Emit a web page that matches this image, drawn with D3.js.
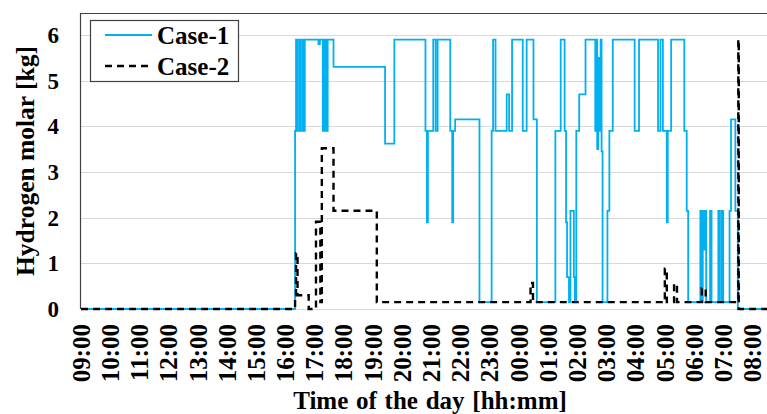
<!DOCTYPE html>
<html><head><meta charset="utf-8">
<script src="https://cdn.jsdelivr.net/npm/d3@7"></script>
<style>
html,body{margin:0;padding:0;background:#fff;}
svg{display:block;font-family:"Liberation Serif",serif;font-weight:bold;}
</style></head>
<body><svg id="chart" width="767" height="414"></svg>
<script>
// data (clock time -> step value)
const case1Times=["09:00","16:20","16:22","16:25","16:29","16:31","16:35","16:38","16:40","17:08","17:11","17:17","17:19","17:21","17:23","17:25","17:27","17:39","19:25","19:44","20:48","20:51","20:53","21:04","21:09","21:13","21:39","21:43","21:45","21:49","22:39","23:04","23:07","23:12","23:35","23:40","23:46","00:08","00:16","00:30","00:37","01:15","01:26","01:34","01:37","01:39","01:43","01:46","01:53","01:55","01:58","02:04","02:17","02:37","02:39","02:41","02:43","02:45","02:48","02:50","02:52","03:02","03:06","03:13","03:58","04:07","04:46","04:51","04:56","05:04","05:06","05:13","05:40","05:45","05:48","06:13","06:16","06:18","06:20","06:22","06:25","06:33","06:36","06:50","06:53","06:57","07:00","07:13","07:16","07:25","07:30","08:30"];
const case1Values=[0,3.9,5.9,3.9,5.9,3.9,5.9,3.9,5.9,5.8,5.9,3.9,5.9,3.9,5.9,3.9,5.9,5.3,3.62,5.9,3.9,1.9,3.9,5.9,3.9,5.9,3.9,1.9,3.9,4.15,0.15,3.9,5.9,3.9,4.7,3.9,5.9,3.9,5.9,4.15,0.15,3.9,5.9,3.9,1.9,0.7,0.15,2.15,0.7,0.15,3.9,4.7,5.9,3.9,5.9,3.5,5.5,3.9,5.9,3.45,0.15,2.15,3.9,5.9,3.9,5.9,3.9,5.9,3.9,1.9,3.9,5.9,3.9,2.15,0.15,2.15,0.15,2.15,1.3,2.15,0.15,2.15,0.15,2.15,0.15,2.15,0.15,2.15,4.15,2.15,0,0];
const case2Times=["09:00","16:20","16:22","16:25","16:48","17:03","17:12","17:15","17:39","19:08","00:24","00:29","05:00","05:04","05:19","05:25","06:16","06:24","07:31","07:32","08:30"];
const case2Values=[0,0.3,1.22,0.3,0,1.91,0.15,3.52,2.15,0.15,0.57,0.15,0.88,0.15,0.55,0.15,0.45,0.15,5.9,0,0];
const yTicks=[0,1,2,3,4,5,6];
const xTickLabels=["09:00","10:00","11:00","12:00","13:00","14:00","15:00","16:00","17:00","18:00","19:00","20:00","21:00","22:00","23:00","00:00","01:00","02:00","03:00","04:00","05:00","06:00","07:00","08:00"];
const seriesNames=["Case-1","Case-2"];

// minutes after 09:00, wrapping past midnight
function toMin(s){const [h,m]=s.split(':').map(Number);return ((h<9?h+24:h)-9)*60+m;}

const svg=d3.select('#chart');
const L=81, R=767, T=13, B=309;
const x=d3.scaleLinear().domain([0,1410]).range([L,R]);
const y=d3.scaleLinear().domain([0,6.5]).range([B,B-6.5*45.67]);

// grid
svg.append('g').selectAll('line').data(yTicks).join('line')
  .attr('x1',L).attr('x2',R).attr('y1',d=>Math.round(y(d))+0.5).attr('y2',d=>Math.round(y(d))+0.5)
  .attr('stroke','#d9d9d9').attr('stroke-width',1);

// frame (left + top)
svg.append('path').attr('d',`M${R},${T+0.5}H${L-0.5}V${B}`).attr('fill','none').attr('stroke','#404040').attr('stroke-width',1.2);

const line=d3.line().curve(d3.curveStepAfter).x(d=>x(d[0])).y(d=>y(d[1]));
const s1=case1Times.map((t,i)=>[toMin(t),case1Values[i]]);
const s2=case2Times.map((t,i)=>[toMin(t),case2Values[i]]);
svg.append('path').datum(s1).attr('d',line).attr('fill','none').attr('stroke','#00b0f0').attr('stroke-width',1.8);
svg.append('path').datum(s2).attr('d',line).attr('fill','none').attr('stroke','#000').attr('stroke-width',2.4).attr('stroke-dasharray','7,5');

// y axis labels
svg.append('g').selectAll('text').data(yTicks).join('text')
  .attr('x',59).attr('y',d=>y(d)).attr('dy','0.35em').attr('text-anchor','end')
  .style('font-size','23px').text(d=>d);

// x axis labels (rotated)
svg.append('g').selectAll('text').data(xTickLabels).join('text')
  .attr('transform',(d,i)=>`translate(${x(i*60)},324) rotate(-90)`)
  .attr('dy','0.35em').attr('text-anchor','end').style('font-size','25px').text(d=>d);

// axis titles
svg.append('text').attr('x',430).attr('y',409).attr('text-anchor','middle')
  .style('font-size','25px').style('word-spacing','1.5px').text('Time of the day [hh:mm]');
svg.append('text').attr('transform','translate(34,161) rotate(-90)').attr('text-anchor','middle')
  .style('font-size','25.5px').text('Hydrogen molar [kg]');

// legend
const lg=svg.append('g');
lg.append('rect').attr('x',90.5).attr('y',20.5).attr('width',148).attr('height',61)
  .attr('fill','#fff').attr('stroke','#404040').attr('stroke-width',1.2);
seriesNames.forEach((n,i)=>{
  const yy=35+i*31;
  lg.append('line').attr('x1',105).attr('x2',152).attr('y1',yy).attr('y2',yy)
    .attr('stroke',i?'#000':'#00b0f0').attr('stroke-width',i?2.4:1.8).attr('stroke-dasharray',i?'7,5':null);
  lg.append('text').attr('x',157).attr('y',yy+8.5).style('font-size','25px').text(n);
});
</script></body></html>
